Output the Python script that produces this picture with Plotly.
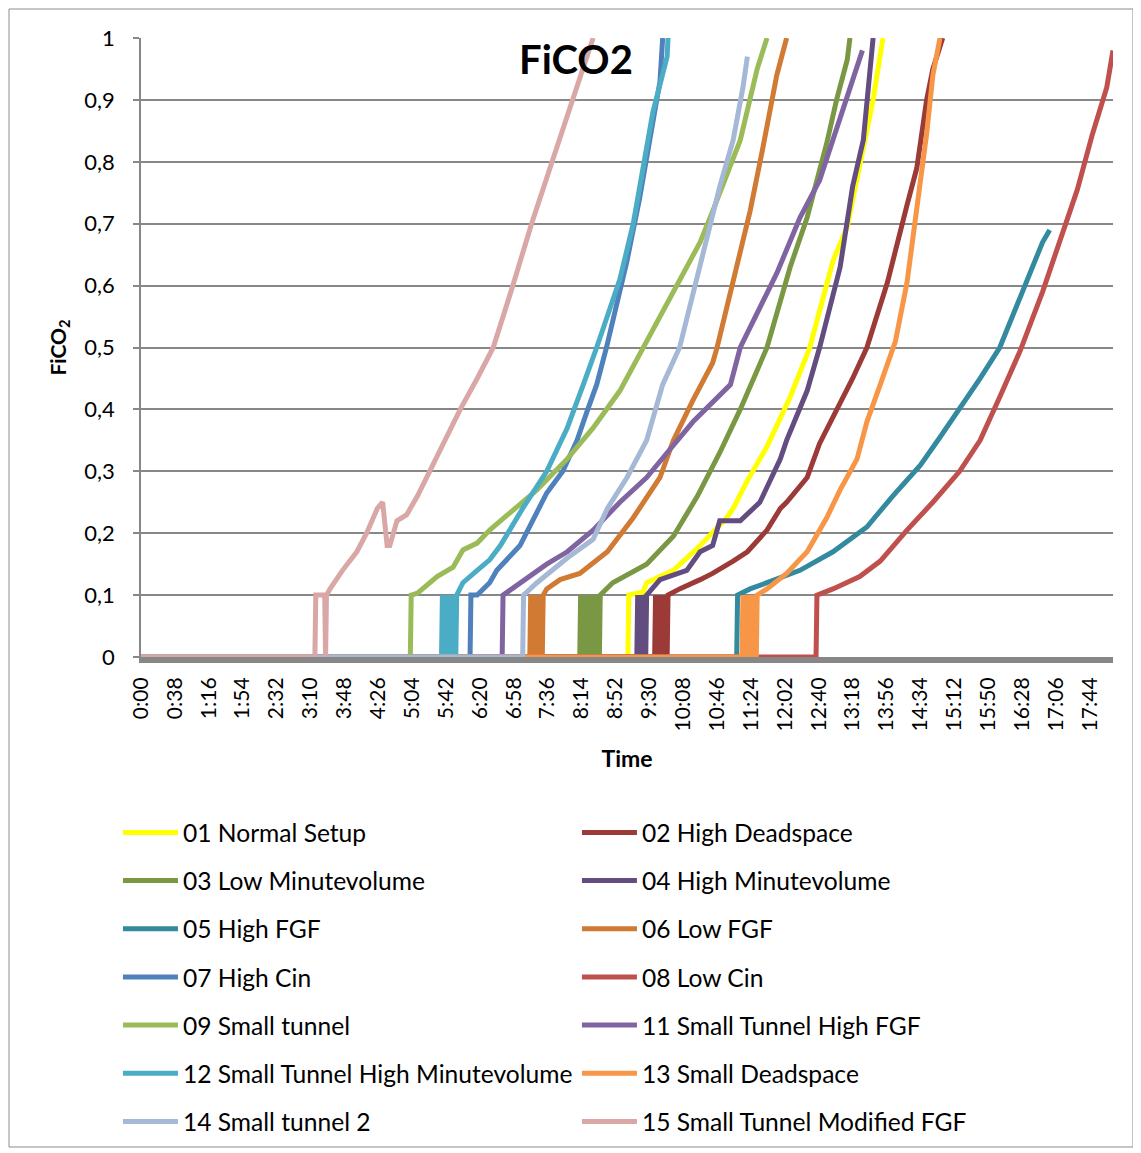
import plotly.graph_objects as go

# ---------------- data (time in seconds, FiCO2 fraction) ----------------
series_names = ["01 Normal Setup", "02 High Deadspace", "03 Low Minutevolume",
                "04 High Minutevolume", "05 High FGF", "06 Low FGF", "07 High Cin",
                "08 Low Cin", "09 Small tunnel", "11 Small Tunnel High FGF",
                "12 Small Tunnel High Minutevolume", "13 Small Deadspace",
                "14 Small tunnel 2", "15 Small Tunnel Modified FGF"]

series_colors = ["#FFFF00", "#9B3A37", "#7A9843", "#634C80", "#338A9F", "#D07A33",
                 "#4F81BD", "#C0504D", "#9BBB59", "#8064A2", "#4BACC6", "#F79646",
                 "#A5B8D6", "#D9A7A6"]

t01 = [0, 546, 547, 563, 567, 597, 627, 657, 664, 680, 702, 728, 750, 776, 792, 806, 821, 832]
v01 = [0, 0, 0.10, 0.105, 0.12, 0.14, 0.18, 0.225, 0.24, 0.285, 0.34, 0.42, 0.50, 0.64, 0.695, 0.79, 0.90, 1.0]

t02 = [0, 576, 577, 578, 579, 580, 581, 582, 583, 584, 585, 586, 587, 588, 589, 590, 591,
       604, 627, 641, 664, 680, 702, 717, 724, 747, 761, 784, 798, 814, 837, 859, 870, 881, 888, 899]
v02 = [0, 0, 0.10, 0, 0.10, 0, 0.10, 0, 0.10, 0, 0.10, 0, 0.10, 0, 0.10, 0, 0.10,
       0.11, 0.125, 0.135, 0.155, 0.17, 0.205, 0.24, 0.25, 0.29, 0.345, 0.41, 0.45, 0.50, 0.605, 0.73, 0.79, 0.90, 0.95, 1.0]

t03 = [0, 492, 493, 494, 495, 496, 497, 498, 499, 500, 501, 502, 503, 504, 505, 506, 507, 508,
       509, 510, 511, 512, 513, 514, 515,
       529, 567, 597, 624, 649, 672, 694, 702, 728, 747, 769, 780, 792, 795]
v03 = [0, 0, 0.10, 0, 0.10, 0, 0.10, 0, 0.10, 0, 0.10, 0, 0.10, 0, 0.10, 0, 0.10, 0,
       0.10, 0, 0.10, 0, 0.10, 0, 0.10,
       0.12, 0.15, 0.195, 0.26, 0.33, 0.40, 0.475, 0.50, 0.63, 0.71, 0.83, 0.90, 0.965, 1.0]

t04 = [0, 556, 557, 558, 559, 560, 561, 562, 563, 564, 565, 566, 567,
       582, 612, 627, 641, 649, 672, 694, 717, 724, 747, 761, 784, 798, 810, 817, 821]
v04 = [0, 0, 0.10, 0, 0.10, 0, 0.10, 0, 0.10, 0, 0.10, 0, 0.10,
       0.125, 0.14, 0.17, 0.18, 0.22, 0.22, 0.25, 0.32, 0.35, 0.43, 0.50, 0.63, 0.76, 0.835, 0.93, 1.0]

t05 = [0, 668, 669, 683, 702, 739, 776, 814, 843, 874, 896, 918, 941, 963, 986, 1000, 1011, 1019]
v05 = [0, 0, 0.10, 0.11, 0.12, 0.14, 0.17, 0.21, 0.26, 0.31, 0.355, 0.40, 0.45, 0.50, 0.58, 0.63, 0.67, 0.69]

t06 = [0, 436, 437, 438, 439, 440, 441, 442, 443, 444, 445, 446, 447, 448, 449, 450, 451,
       455, 470, 492, 523, 552, 582, 597, 619, 641, 646, 664, 683, 697, 713, 724]
v06 = [0, 0, 0.10, 0, 0.10, 0, 0.10, 0, 0.10, 0, 0.10, 0, 0.10, 0, 0.10, 0, 0.10,
       0.11, 0.125, 0.135, 0.17, 0.225, 0.29, 0.35, 0.415, 0.475, 0.50, 0.61, 0.72, 0.82, 0.94, 1.0]

t07 = [0, 369, 370, 377, 391, 399, 425, 455, 473, 489, 501, 511, 522, 545, 559, 571, 582, 585]
v07 = [0, 0, 0.10, 0.10, 0.12, 0.14, 0.18, 0.265, 0.30, 0.35, 0.40, 0.44, 0.50, 0.64, 0.74, 0.835, 0.93, 1.0]

t08 = [0, 757, 758, 776, 806, 829, 859, 888, 918, 941, 963, 986, 1011, 1030, 1050, 1067, 1083, 1090]
v08 = [0, 0, 0.10, 0.11, 0.13, 0.155, 0.205, 0.25, 0.30, 0.35, 0.42, 0.495, 0.59, 0.67, 0.755, 0.845, 0.92, 0.98]

t09 = [0, 302, 303, 310, 332, 350, 361, 377, 391, 444, 478, 507, 537, 552, 563, 597, 627, 641, 672, 691, 702]
v09 = [0, 0, 0.10, 0.103, 0.13, 0.145, 0.173, 0.184, 0.205, 0.27, 0.32, 0.37, 0.43, 0.47, 0.50, 0.59, 0.67, 0.72, 0.835, 0.95, 1.0]

t11 = [0, 405, 406, 425, 455, 478, 507, 537, 567, 590, 619, 661, 672, 713, 739, 761, 776, 792, 803, 809]
v11 = [0, 0, 0.10, 0.12, 0.15, 0.17, 0.205, 0.25, 0.29, 0.33, 0.38, 0.44, 0.50, 0.62, 0.71, 0.77, 0.835, 0.90, 0.95, 0.98]

t12 = [0, 337, 338, 339, 340, 341, 342, 343, 344, 345, 346, 347, 348, 349, 350, 351, 352, 353, 354,
       361, 377, 391, 403, 428, 455, 478, 496, 511, 537, 552, 563, 574, 590, 591]
v12 = [0, 0, 0.10, 0, 0.10, 0, 0.10, 0, 0.10, 0, 0.10, 0, 0.10, 0, 0.10, 0, 0.10, 0, 0.10,
       0.12, 0.14, 0.157, 0.18, 0.24, 0.30, 0.37, 0.44, 0.50, 0.61, 0.70, 0.79, 0.88, 0.97, 1.0]

t13 = [0, 674, 675, 676, 677, 678, 679, 680, 681, 682, 683, 684, 685, 686, 687, 688, 689, 690, 691,
       702, 724, 747, 769, 784, 803, 814, 829, 846, 859, 870, 881, 888, 896]
v13 = [0, 0, 0.10, 0, 0.10, 0, 0.10, 0, 0.10, 0, 0.10, 0, 0.10, 0, 0.10, 0, 0.10, 0, 0.10,
       0.11, 0.135, 0.17, 0.225, 0.27, 0.32, 0.38, 0.44, 0.51, 0.605, 0.72, 0.845, 0.94, 1.0]

t14 = [0, 428, 429, 444, 478, 507, 523, 545, 567, 585, 604, 627, 649, 664, 675, 680]
v14 = [0, 0, 0.10, 0.12, 0.16, 0.19, 0.24, 0.29, 0.35, 0.44, 0.50, 0.63, 0.76, 0.835, 0.92, 0.97]

t15 = [0, 195, 196, 206, 207, 208, 212, 226, 242, 253, 265, 271, 276, 279, 287, 298, 310, 324,
       340, 358, 377, 395, 417, 438, 461, 484, 507]
v15 = [0, 0, 0.10, 0.10, 0, 0.10, 0.11, 0.14, 0.17, 0.20, 0.24, 0.25, 0.18, 0.18, 0.22, 0.23, 0.26, 0.30,
       0.35, 0.40, 0.45, 0.50, 0.60, 0.70, 0.80, 0.90, 1.00]

series_t = [t01, t02, t03, t04, t05, t06, t07, t08, t09, t11, t12, t13, t14, t15]
series_v = [v01, v02, v03, v04, v05, v06, v07, v08, v09, v11, v12, v13, v14, v15]

x_tick_labels = ["0:00", "0:38", "1:16", "1:54", "2:32", "3:10", "3:48", "4:26", "5:04",
                 "5:42", "6:20", "6:58", "7:36", "8:14", "8:52", "9:30", "10:08", "10:46",
                 "11:24", "12:02", "12:40", "13:18", "13:56", "14:34", "15:12", "15:50",
                 "16:28", "17:06", "17:44"]
x_tick_seconds = [int(s.split(":")[0]) * 60 + int(s.split(":")[1]) for s in x_tick_labels]
x_max_seconds = 1090

# ---------------- figure ----------------
FONT = "Lato"
GRID = "#878787"
# the page body has an 8px default margin, so the figure is sized to fit the window
FIG_W, FIG_H = 1133, 1145

fig = go.Figure()
for i, (name, col, tt, vv) in enumerate(zip(series_names, series_colors, series_t, series_v)):
    assert len(tt) == len(vv), name
    fig.add_trace(go.Scatter(
        x=tt, y=vv, mode="lines", name=name,
        line=dict(color=col, width=5),
        legend="legend" if i % 2 == 0 else "legend2",
        legendgroup=name,
    ))

legend_common = dict(
    orientation="v", xanchor="left", yanchor="top",
    font=dict(family=FONT, size=24.6, color="#000000"),
    itemwidth=55, tracegroupgap=13.2, bgcolor="rgba(0,0,0,0)",
    itemclick=False, itemdoubleclick=False,
)

fig.update_layout(
    width=FIG_W, height=FIG_H,
    margin=dict(l=133, r=28, t=30, b=496, autoexpand=False),
    paper_bgcolor="white", plot_bgcolor="white",
    separators=", ",
    font=dict(family=FONT, color="#000000"),
    title=dict(text="<b>FiCO2</b>", x=568 / FIG_W, xref="container", xanchor="center",
               y=1 - 52 / FIG_H, yref="container", yanchor="middle",
               font=dict(family=FONT, size=40, color="#000000")),
    legend=dict(x=-0.0237, y=-0.247, **legend_common),
    legend2=dict(x=0.4485, y=-0.247, **legend_common),
    xaxis=dict(
        range=[0, x_max_seconds], tickmode="array",
        tickvals=x_tick_seconds, ticktext=x_tick_labels, tickangle=-90,
        tickfont=dict(family=FONT, size=21), ticks="", ticklabelstandoff=6,
        showgrid=False, zeroline=False, automargin=False,
        showline=True, linecolor=GRID, linewidth=6,
        title=dict(text="<b>Time</b>", font=dict(family=FONT, size=23), standoff=23),
    ),
    yaxis=dict(
        range=[0, 1], dtick=0.1, tick0=0,
        tickfont=dict(family=FONT, size=22), automargin=False,
        ticks="outside", ticklen=6, tickcolor=GRID, tickwidth=1.5,
        ticklabelstandoff=14,
        showgrid=True, gridcolor=GRID, gridwidth=1.5,
        zeroline=False, showline=True, linecolor=GRID, linewidth=1.5,
        title=dict(text="<b>FiCO<sub>2</sub></b>", font=dict(family=FONT, size=21), standoff=12),
    ),
    shapes=[dict(type="rect", xref="paper", yref="paper",
                 x0=(1 - 133) / 972, x1=(1125 - 133) / 972,
                 y0=(649 - 1139) / 619, y1=(649 - 1) / 619,
                 line=dict(color="#8C8C8C", width=1), fillcolor="rgba(0,0,0,0)",
                 layer="below")],
)

fig.write_html("out.html")
